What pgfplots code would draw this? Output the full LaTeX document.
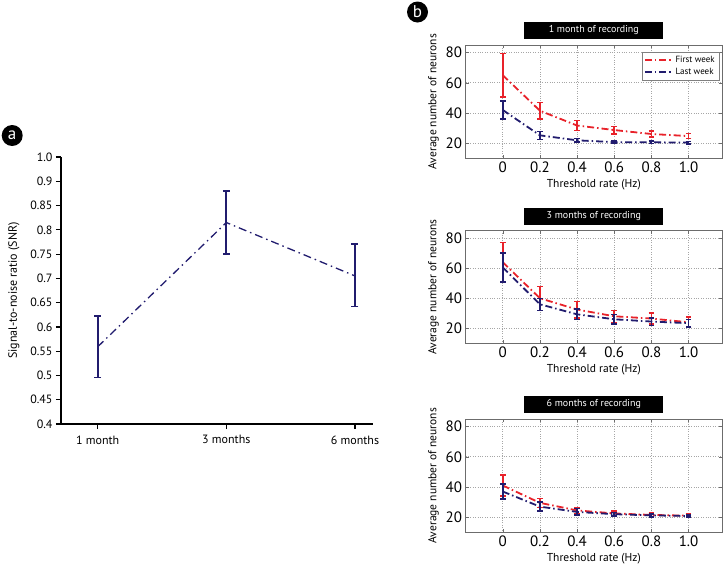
\documentclass[border=0pt]{standalone}
\usepackage{fontspec}
\setmainfont{PT Sans}
\usepackage{pgfplots}
\pgfplotsset{compat=1.18}
\usepackage{pgfplotstable}

\definecolor{navy}{HTML}{211C6E}
\definecolor{mred}{HTML}{E8222A}

% panel a: SNR, mean and error
\pgfplotstableread{
x y ep em
0 0.559 0.0635 0.0635
1 0.815 0.0645 0.0645
2 0.705 0.066 0.063
}\snr

% panel b: x = threshold rate, y = mean, e = error
\pgfplotstableread{
x y e
0 65.0 14.5
0.2 41.5 5.5
0.4 31.7 3.3
0.6 28.7 2.5
0.8 26.1 1.9
1.0 24.7 1.6
}\oneFirst
\pgfplotstableread{
x y e
0 42.0 6.0
0.2 25.2 2.7
0.4 21.9 1.2
0.6 20.7 0.9
0.8 20.6 0.8
1.0 20.4 0.8
}\oneLast
\pgfplotstableread{
x y e
0 64.0 13.0
0.2 40.0 8.0
0.4 32.5 5.5
0.6 28.0 4.0
0.8 26.5 3.6
1.0 24.0 3.4
}\threeFirst
\pgfplotstableread{
x y e
0 60.5 9.5
0.2 36.0 4.0
0.4 29.3 3.5
0.6 26.0 3.2
0.8 24.5 2.5
1.0 23.4 2.5
}\threeLast
\pgfplotstableread{
x y e
0 41.0 7.0
0.2 29.5 3.0
0.4 24.5 2.0
0.6 22.5 1.5
0.8 21.5 1.2
1.0 21.0 1.2
}\sixFirst
\pgfplotstableread{
x y e
0 37.0 5.0
0.2 27.0 3.0
0.4 23.5 2.2
0.6 22.0 1.2
0.8 21.2 1.0
1.0 20.8 0.8
}\sixLast

\pgfplotsset{
  bpanel/.style={
    scale only axis, width=256.4pt,
    xmin=-0.2, xmax=1.18, ymin=10, ymax=85,
    xtick={0,0.2,0.4,0.6,0.8,1.0},
    xticklabels={0,0.2,0.4,0.6,0.8,1.0},
    ytick={20,40,60,80},
    grid=major,
    grid style={dotted, gray!70, line width=0.7pt},
    axis line style={gray!85!black, line width=0.8pt},
    tick style={gray!85!black},
    tick align=inside, major tick length=3pt,
    ticklabel style={font=\fontsize{15}{16}\selectfont},
    label style={font=\fontsize{11.5}{13}\selectfont},
    xlabel={Threshold rate (Hz)},
    ylabel={Average number of neurons},
    title style={fill=black, text=white, minimum width=139pt, minimum height=17pt,
      inner sep=0pt, font=\fontsize{10}{11}\selectfont},
    /pgf/number format/assume math mode=true,
  },
  errstyle/.style={no markers, line width=1.8pt,
    dash pattern=on 7pt off 3pt on 1.5pt off 3pt,
    error bars/.cd, y dir=both, y explicit,
    error bar style={solid, line width=1.8pt},
    error mark options={rotate=90, mark size=2.8pt, line width=1.5pt, solid}},
  firstw/.style={mred, errstyle},
  lastw/.style={navy, errstyle},
}

\begin{document}
\begin{tikzpicture}
\path[use as bounding box] (0pt,0pt) rectangle (726pt,-566pt);

% panel labels
\node[circle, fill=black, text=white, minimum size=21pt, inner sep=0pt,
  font=\fontsize{17}{17}\selectfont] at (12.2pt,-135.5pt) {a};
\node[circle, fill=black, text=white, minimum size=21pt, inner sep=0pt,
  font=\fontsize{17}{17}\selectfont] at (417.5pt,-12pt) {b};

% panel a
\begin{axis}[
  at={(61pt,-424pt)}, anchor=south west,
  scale only axis, width=312pt, height=267pt,
  xmin=-0.285, xmax=2.14, ymin=0.4, ymax=0.95,
  axis x line*=bottom, axis y line*=left,
  axis line style={black, line width=1.4pt},
  xtick={0,1,2}, xticklabels={1 month,3 months,6 months},
  ytick={0.4,0.45,0.5,0.55,0.6,0.65,0.7,0.75,0.8,0.85,0.9,0.95},
  yticklabels={0.4,0.45,0.5,0.55,0.6,0.65,0.7,0.75,0.8,0.85,0.9,1.0},
  tick align=outside, major tick length=5pt,
  tick style={black, line width=1.2pt},
  ticklabel style={font=\fontsize{12}{13}\selectfont},
  xticklabel style={yshift=-3pt},
  ylabel={Signal-to-noise ratio (SNR)}, ylabel shift=4pt,
  label style={font=\fontsize{12}{13}\selectfont},
]
\addplot[navy, no markers, line width=1.3pt,
  dash pattern=on 8pt off 4pt on 1.5pt off 4pt,
  error bars/.cd, y dir=both, y explicit,
  error bar style={solid, line width=2pt},
  error mark options={rotate=90, mark size=3.5pt, line width=1.5pt, solid}]
  table[x=x, y=y, y error plus=ep, y error minus=em] {\snr};
\end{axis}

% panel b, 1 month
\begin{axis}[bpanel, at={(465.6pt,-158.3pt)}, anchor=south west, height=113.3pt,
  title={1 month of recording},
  legend style={at={(1,1)}, anchor=north east, xshift=-3pt, yshift=-7pt,
    draw=gray, font=\fontsize{9}{10}\selectfont, inner sep=2pt,
    row sep=0pt},
  legend cell align=left,
  legend image code/.code={\draw[#1, line width=1.5pt] (0pt,0pt) -- (28pt,0pt);}]
\addplot[firstw] table[x=x, y=y, y error=e] {\oneFirst};
\addlegendentry{First week}
\addplot[lastw] table[x=x, y=y, y error=e] {\oneLast};
\addlegendentry{Last week}
\end{axis}

% panel b, 3 months
\begin{axis}[bpanel, at={(465.6pt,-343.3pt)}, anchor=south west, height=112.6pt,
  title={3 months of recording}]
\addplot[firstw] table[x=x, y=y, y error=e] {\threeFirst};
\addplot[lastw] table[x=x, y=y, y error=e] {\threeLast};
\end{axis}

% panel b, 6 months
\begin{axis}[bpanel, at={(465.6pt,-532.3pt)}, anchor=south west, height=113.3pt,
  title={6 months of recording}]
\addplot[firstw] table[x=x, y=y, y error=e] {\sixFirst};
\addplot[lastw] table[x=x, y=y, y error=e] {\sixLast};
\end{axis}
\end{tikzpicture}
\end{document}
